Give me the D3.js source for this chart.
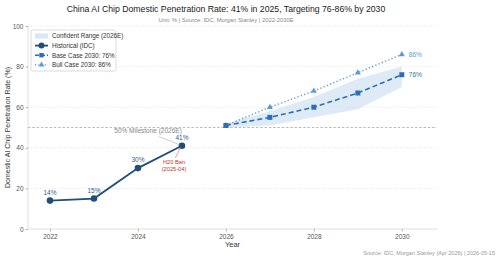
<!DOCTYPE html>
<html>
<head>
<meta charset="utf-8">
<script src="https://cdn.jsdelivr.net/npm/d3@7"></script>
<style>
body{margin:0;background:#fff;}
text{font-family:"Liberation Sans",Arial,sans-serif;}
</style>
</head>
<body>
<div class="box"></div>
<script>
const histYears=[2022,2023,2024,2025];
const histVals=[14,15,30,41];
const foreYears=[2026,2027,2028,2029,2030];
const baseVals=[51,55,60,67,76];
const bullVals=[51,60,68,77,86];
const bandLow=[50,51,55,59,70];
const bandHigh=[52,58,65,74,80];
const yTicks=[0,20,40,60,80,100];
const xTicks=[2022,2024,2026,2028,2030];

const W=500,H=260;
const margin={top:26,right:63,bottom:31,left:28};
const graphW=W-margin.left-margin.right;
const graphH=H-margin.top-margin.bottom;

const svg=d3.select('.box').append('svg').attr('width',W).attr('height',H).style('background','white');
const g=svg.append('g').attr('transform',`translate(${margin.left},${margin.top})`);

const x=d3.scaleLinear().domain([2021.5,2030.8]).range([0,graphW]);
const y=d3.scaleLinear().domain([0,100]).range([graphH,0]);

// grid
g.selectAll('.grid').data(yTicks.slice(1)).enter().append('line')
  .attr('x1',0).attr('x2',graphW)
  .attr('y1',d=>y(d)).attr('y2',d=>y(d))
  .attr('stroke','#e2e2e2').attr('stroke-width',0.7).attr('stroke-dasharray','1.5,1.5');

// spines
g.append('line').attr('x1',0).attr('x2',0).attr('y1',0).attr('y2',graphH).attr('stroke','#e0e0e0').attr('stroke-width',1);
g.append('line').attr('x1',0).attr('x2',graphW).attr('y1',graphH).attr('y2',graphH).attr('stroke','#e0e0e0').attr('stroke-width',1.2);

// axes
const axeX=d3.axisBottom(x).tickValues(xTicks).tickFormat(d3.format('d')).tickSize(2.5).tickPadding(3);
const axeY=d3.axisLeft(y).tickValues(yTicks).tickSize(2.5).tickPadding(2);
const gX=g.append('g').attr('transform',`translate(0,${graphH})`).call(axeX);
const gY=g.append('g').call(axeY);
[gX,gY].forEach(a=>{
  a.select('.domain').remove();
  a.selectAll('.tick line').attr('stroke','#888').attr('stroke-width',0.6);
  a.selectAll('.tick text').attr('fill','#555').style('font-size','6.5px').style('font-family','"Liberation Sans",Arial,sans-serif');
});

// 50% milestone
g.append('line').attr('x1',0).attr('x2',graphW).attr('y1',y(50)).attr('y2',y(50))
  .attr('stroke','#aaa').attr('stroke-width',0.8).attr('stroke-dasharray','2.5,1.8');

// band
const area=d3.area().x((d,i)=>x(foreYears[i])).y0((d,i)=>y(bandLow[i])).y1((d,i)=>y(bandHigh[i]));
g.append('path').datum(foreYears).attr('d',area).attr('fill','#c9dcf2').attr('opacity',0.6);

const line=vals=>d3.line().x((d,i)=>x(d)).y((d,i)=>y(vals[i]));

// bull
g.append('path').datum(foreYears).attr('d',line(bullVals)).attr('fill','none')
  .attr('stroke','#5b9bd5').attr('stroke-width',1.4).attr('stroke-dasharray','1.3,2.2');
g.selectAll('.bull').data(foreYears).enter().append('path')
  .attr('d',d3.symbol().type(d3.symbolTriangle).size(16))
  .attr('transform',(d,i)=>`translate(${x(d)},${y(bullVals[i])})`).attr('fill','#5b9bd5');

// base
g.append('path').datum(foreYears).attr('d',line(baseVals)).attr('fill','none')
  .attr('stroke','#2e6fb4').attr('stroke-width',1.6).attr('stroke-dasharray','5,3');
g.selectAll('.base').data(foreYears).enter().append('rect')
  .attr('x',d=>x(d)-2.5).attr('y',(d,i)=>y(baseVals[i])-2.5).attr('width',5).attr('height',5).attr('fill','#2e6fb4');

// historical
g.append('path').datum(histYears).attr('d',line(histVals)).attr('fill','none')
  .attr('stroke','#1f4e79').attr('stroke-width',1.8);
g.selectAll('.hist').data(histYears).enter().append('circle')
  .attr('cx',d=>x(d)).attr('cy',(d,i)=>y(histVals[i])).attr('r',3.3).attr('fill','#1f4e79');
g.selectAll('.hlab').data(histYears).enter().append('text')
  .attr('x',d=>x(d)).attr('y',(d,i)=>y(histVals[i])-6).attr('text-anchor','middle')
  .attr('fill','#2f5d8c').style('font-size','6.5px').text((d,i)=>histVals[i]+'%');

// end labels
g.append('text').attr('x',x(2030)+7).attr('y',y(86)+2.2).attr('fill','#5b9bd5').style('font-size','6.5px').text(bullVals[4]+'%');
g.append('text').attr('x',x(2030)+7).attr('y',y(76)+2.2).attr('fill','#2e6fb4').style('font-size','6.5px').text(baseVals[4]+'%');

// annotations
g.append('line').attr('x1',x(2024.48)).attr('y1',y(45.5)).attr('x2',x(2024.95)).attr('y2',y(41.5)).attr('stroke','#aaa').attr('stroke-width',0.6);
g.append('text').attr('x',x(2024.23)).attr('y',y(47.3)).attr('text-anchor','middle').attr('fill','#888').style('font-size','6.5px').text('50% Milestone (2026E)');
g.append('line').attr('x1',x(2024.85)).attr('y1',y(35)).attr('x2',x(2025)-1).attr('y2',y(40.4)).attr('stroke','#e06050').attr('stroke-width',0.6);
g.append('text').attr('x',x(2024.82)).attr('y',y(32)).attr('text-anchor','middle').attr('fill','#c0392b').style('font-size','5.7px').text('H20 Ban');
g.append('text').attr('x',x(2024.82)).attr('y',y(28.5)).attr('text-anchor','middle').attr('fill','#c0392b').style('font-size','5.7px').text('(2025-04)');

// titles
svg.append('text').attr('x',226).attr('y',11.5).attr('text-anchor','middle').attr('fill','#222').style('font-size','8.7px')
  .text('China AI Chip Domestic Penetration Rate: 41% in 2025, Targeting 76-86% by 2030');
svg.append('text').attr('x',226).attr('y',21.5).attr('text-anchor','middle').attr('fill','#888').style('font-size','5.8px')
  .text('Unit: % | Source: IDC, Morgan Stanley | 2022-2030E');
svg.append('text').attr('x',margin.left+graphW/2).attr('y',246.5).attr('text-anchor','middle').attr('fill','#333').style('font-size','7.5px')
  .text('Year');
svg.append('text').attr('transform',`translate(10,${margin.top+graphH/2}) rotate(-90)`).attr('text-anchor','middle').attr('fill','#333').style('font-size','7px')
  .text('Domestic AI Chip Penetration Rate (%)');
svg.append('text').attr('x',495).attr('y',255).attr('text-anchor','end').attr('fill','#999').style('font-size','5.5px')
  .text('Source: IDC, Morgan Stanley (Apr 2026)  |  2026-05-15');

// legend
const lg=svg.append('g').attr('transform','translate(31,30)');
lg.append('rect').attr('width',85).attr('height',41).attr('fill','white').attr('stroke','#ccc').attr('stroke-width',0.7).attr('rx',1.5);
const items=[
  {label:'Confident Range (2026E)',type:'band'},
  {label:'Historical (IDC)',type:'hist'},
  {label:'Base Case 2030: 76%',type:'base'},
  {label:'Bull Case 2030: 86%',type:'bull'}
];
items.forEach((it,i)=>{
  const yy=6+i*9.6;
  const r=lg.append('g').attr('transform',`translate(4,${yy})`);
  if(it.type==='band'){
    r.append('rect').attr('x',0).attr('y',-2.5).attr('width',13).attr('height',5).attr('fill','#c9dcf2').attr('opacity',0.7);
  }else if(it.type==='hist'){
    r.append('line').attr('x1',0).attr('x2',13).attr('stroke','#1f4e79').attr('stroke-width',1.8);
    r.append('circle').attr('cx',6.5).attr('r',3).attr('fill','#1f4e79');
  }else if(it.type==='base'){
    r.append('line').attr('x1',0).attr('x2',13).attr('stroke','#2e6fb4').attr('stroke-width',1.5).attr('stroke-dasharray','4,2');
    r.append('rect').attr('x',4.3).attr('y',-2.2).attr('width',4.4).attr('height',4.4).attr('fill','#2e6fb4');
  }else{
    r.append('line').attr('x1',0).attr('x2',13).attr('stroke','#5b9bd5').attr('stroke-width',1.3).attr('stroke-dasharray','1.2,2');
    r.append('path').attr('d',d3.symbol().type(d3.symbolTriangle).size(14)).attr('transform','translate(6.5,0)').attr('fill','#5b9bd5');
  }
  r.append('text').attr('x',17).attr('y',2.3).attr('fill','#333').style('font-size','6.3px').text(it.label);
});
</script>
</body>
</html>
